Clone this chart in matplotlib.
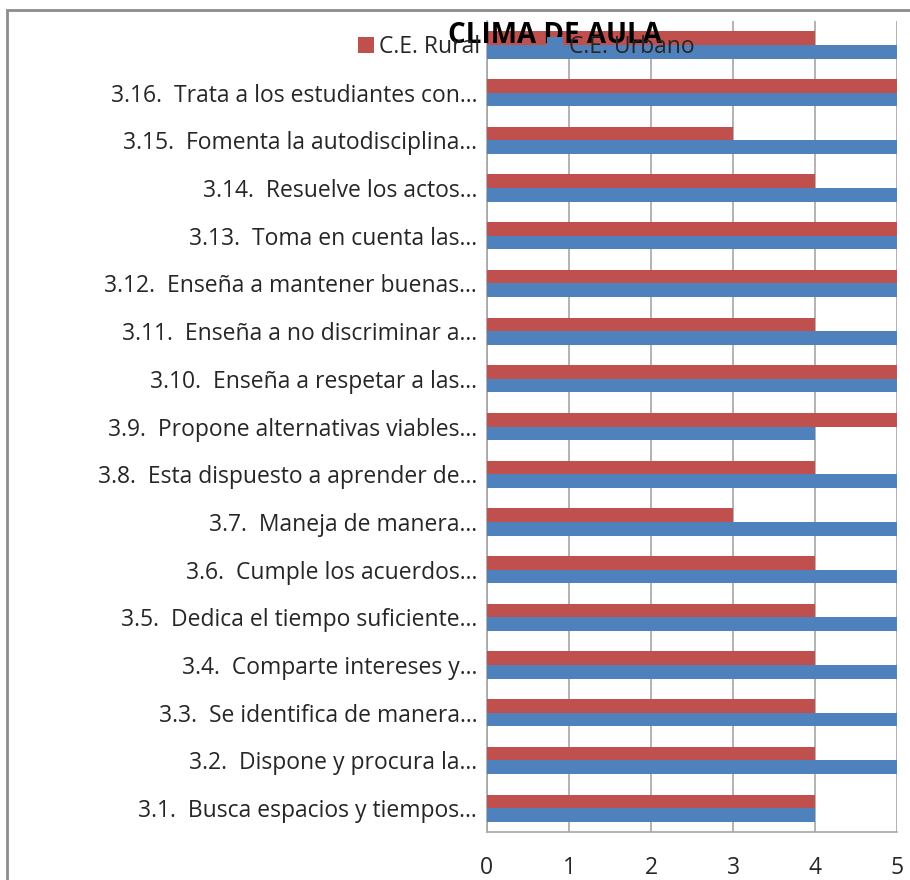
import matplotlib.pyplot as plt
from matplotlib.patches import Rectangle
import numpy as np

categories = [
    "3.1.  Busca espacios y tiempos...",
    "3.2.  Dispone y procura la...",
    "3.3.  Se identifica de manera...",
    "3.4.  Comparte intereses y...",
    "3.5.  Dedica el tiempo suficiente...",
    "3.6.  Cumple los acuerdos...",
    "3.7.  Maneja de manera...",
    "3.8.  Esta dispuesto a aprender de...",
    "3.9.  Propone alternativas viables...",
    "3.10.  Enseña a respetar a las...",
    "3.11.  Enseña a no discriminar a...",
    "3.12.  Enseña a mantener buenas...",
    "3.13.  Toma en cuenta las...",
    "3.14.  Resuelve los actos...",
    "3.15.  Fomenta la autodisciplina...",
    "3.16.  Trata a los estudiantes con...",
    "",
]
rural = [4, 4, 4, 4, 4, 4, 3, 4, 5, 5, 4, 5, 5, 4, 3, 5, 4]
urbano = [4, 5, 5, 5, 5, 5, 5, 5, 4, 5, 5, 5, 5, 5, 5, 5, 5]
x_ticks = [0, 1, 2, 3, 4, 5]

RED = '#C0504D'
BLUE = '#4F81BD'
GRID = '#A6A6A6'


def main():
    plt.rcParams['font.family'] = ['Open Sans', 'DejaVu Sans']
    fig = plt.figure(figsize=(9.1, 8.8), dpi=100)
    ax = fig.add_axes([0.535, 0.0545, 0.451, 0.9215])

    # outer chart border (cut off at right and bottom in the original)
    fig.patches.append(Rectangle((7 / 910, -0.1), 1.2, 1.1 - 10 / 880,
                                 transform=fig.transFigure, fill=False,
                                 edgecolor='#8C8C8C', linewidth=2))

    y = np.arange(len(categories))
    h = 0.285
    ax.barh(y + h / 2, rural, height=h, color=RED, label='C.E. Rural', zorder=3)
    ax.barh(y - h / 2, urbano, height=h, color=BLUE, label='C.E. Urbano', zorder=3)

    ax.set_xlim(0, 5)
    ax.set_ylim(-0.5, len(categories) - 0.5)
    ax.set_xticks(x_ticks)
    ax.set_yticks(y)
    ax.set_yticklabels(categories, fontsize=16.5, color='#262626')
    ax.tick_params(axis='x', length=0, pad=17, labelsize=16.5, colors='#262626')
    ax.tick_params(axis='y', length=0, pad=7)
    ax.xaxis.grid(True, color=GRID, linewidth=1.2, zorder=0)

    for side in ['top', 'right']:
        ax.spines[side].set_visible(False)
    for side in ['left', 'bottom']:
        ax.spines[side].set_color(GRID)
        ax.spines[side].set_linewidth(1.2)

    fig.legend(loc='center', bbox_to_anchor=(0.578, 0.947), ncol=2,
               frameon=False, fontsize=16.5, handlelength=0.7,
               handleheight=0.7, handletextpad=0.25, columnspacing=2.9,
               labelcolor='#262626')
    fig.text(0.61, 0.960, 'CLIMA DE AULA', ha='center', va='center',
             fontsize=20, fontweight='bold', color='black')

    plt.savefig('out.png', dpi=100)


if __name__ == '__main__':
    main()
